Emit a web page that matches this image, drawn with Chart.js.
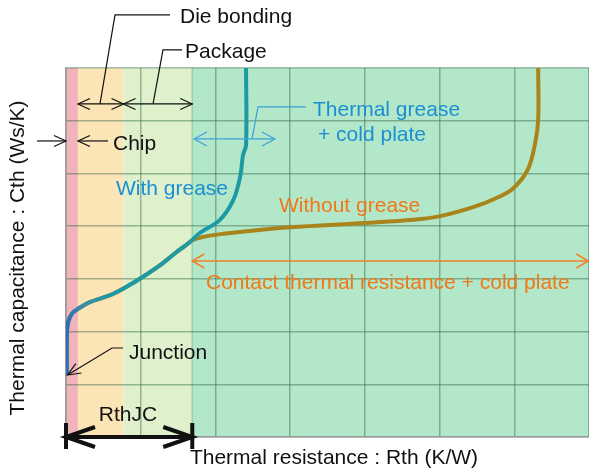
<!DOCTYPE html>
<html>
<head>
<meta charset="utf-8">
<script src="https://cdn.jsdelivr.net/npm/chart.js@4"></script>
<style>
  html, body { margin: 0; padding: 0; background: #fff; }
  #wrap { width: 589px; height: 472px; }
</style>
</head>
<body>
<div id="wrap"><canvas id="structureChart" width="589" height="472"></canvas></div>
<script>
// Structure function: thermal resistance (x) vs thermal capacitance (y), axes unlabelled
const gridTicks = [0, 1, 2, 3, 4, 5, 6, 7];

const layerNames = ['Chip', 'Die bonding', 'Package', 'Contact + cold plate'];
const layerEdges = [0, 0.16, 0.77, 1.69, 7];
const layerColors = ['#f2b4bc', '#fbe4b5', '#dff0cd', '#b2e7c9'];

const withGreaseRth = [0.01, 0.012, 0.03, 0.08, 0.16, 0.32, 0.59, 0.81, 1.01, 1.26, 1.48, 1.66, 1.79, 2.06, 2.24, 2.33, 2.37, 2.41, 2.41];
const withGreaseCth = [1.18, 1.95, 2.18, 2.34, 2.43, 2.56, 2.69, 2.85, 3.02, 3.26, 3.51, 3.70, 3.87, 4.12, 4.50, 4.93, 5.35, 5.54, 7.0];

const withoutGreaseRth = [0.01, 0.012, 0.03, 0.08, 0.16, 0.32, 0.59, 0.81, 1.01, 1.26, 1.48, 1.59, 1.70, 1.97, 2.46, 3.00, 4.00, 4.65, 5.01, 5.45, 5.74, 5.98, 6.18, 6.28, 6.32, 6.32];
const withoutGreaseCth = [1.18, 1.95, 2.18, 2.34, 2.43, 2.56, 2.69, 2.85, 3.02, 3.26, 3.51, 3.62, 3.74, 3.83, 3.91, 3.98, 4.06, 4.12, 4.19, 4.36, 4.52, 4.71, 5.07, 5.58, 6.02, 7.0];

const FONT = '21px "Liberation Sans", Arial, sans-serif';
const BLACK = '#111';
const BLUE = '#1b8fd2';
const ORANGE = '#f07818';

function toPoints(xs, ys) {
  return xs.map((x, i) => ({ x: x, y: ys[i] }));
}

function arrowHead(ctx, x, y, fromX, fromY, len, half) {
  const a = Math.atan2(y - fromY, x - fromX);
  ctx.beginPath();
  ctx.moveTo(x - len * Math.cos(a) + half * Math.sin(a), y - len * Math.sin(a) - half * Math.cos(a));
  ctx.lineTo(x, y);
  ctx.lineTo(x - len * Math.cos(a) - half * Math.sin(a), y - len * Math.sin(a) + half * Math.cos(a));
  ctx.stroke();
}

// layer bands behind the grid
const bandsPlugin = {
  id: 'bands',
  beforeDraw(chart) {
    const { ctx, chartArea, scales } = chart;
    ctx.save();
    for (let i = 0; i < layerNames.length; i++) {
      const x0 = scales.x.getPixelForValue(layerEdges[i]);
      const x1 = scales.x.getPixelForValue(layerEdges[i + 1]);
      ctx.fillStyle = layerColors[i];
      ctx.fillRect(x0, chartArea.top, x1 - x0, chartArea.bottom - chartArea.top);
    }
    const xe = scales.x.getPixelForValue(layerEdges[3]);
    ctx.strokeStyle = '#8fd6a6';
    ctx.lineWidth = 1.5;
    ctx.beginPath();
    ctx.moveTo(xe, chartArea.top);
    ctx.lineTo(xe, chartArea.bottom);
    ctx.stroke();
    ctx.restore();
  }
};

// arrows, leaders and labels
const notesPlugin = {
  id: 'notes',
  afterDraw(chart) {
    const { ctx, scales } = chart;
    const X = v => scales.x.getPixelForValue(v);
    const Y = v => scales.y.getPixelForValue(v);

    function text(str, x, y, color, align) {
      ctx.fillStyle = color;
      ctx.textAlign = align || 'left';
      ctx.textBaseline = 'middle';
      ctx.fillText(str, X(x), Y(y));
    }
    function poly(pts, color, w) {
      ctx.strokeStyle = color;
      ctx.lineWidth = w;
      ctx.beginPath();
      pts.forEach((p, i) => i ? ctx.lineTo(X(p[0]), Y(p[1])) : ctx.moveTo(X(p[0]), Y(p[1])));
      ctx.stroke();
    }
    function dblArrow(x0, x1, y, color, w, len, half) {
      poly([[x0, y], [x1, y]], color, w);
      arrowHead(ctx, X(x0), Y(y), X(x1), Y(y), len, half);
      arrowHead(ctx, X(x1), Y(y), X(x0), Y(y), len, half);
    }

    ctx.save();
    ctx.font = FONT;
    ctx.lineCap = 'butt';

    // Die bonding
    text('Die bonding', 1.526, 7.968, BLACK);
    poly([[1.392, 8.006], [0.656, 8.006], [0.455, 6.318]], BLACK, 1.2);
    dblArrow(layerEdges[1], layerEdges[2], 6.318, BLACK, 1.2, 12, 5.5);

    // Package
    text('Package', 1.593, 7.304, BLACK);
    poly([[1.553, 7.342], [1.298, 7.342], [1.165, 6.318]], BLACK, 1.2);
    dblArrow(layerEdges[2], layerEdges[3], 6.318, BLACK, 1.2, 12, 5.5);

    // Chip
    text('Chip', 0.629, 5.559, BLACK);
    poly([[-0.388, 5.616], [layerEdges[0], 5.616]], BLACK, 1.2);
    arrowHead(ctx, X(layerEdges[0]), Y(5.616), X(-0.388), Y(5.616), 12, 5.5);
    poly([[0.562, 5.616], [layerEdges[1], 5.616]], BLACK, 1.2);
    arrowHead(ctx, X(layerEdges[1]), Y(5.616), X(0.562), Y(5.616), 12, 5.5);

    // Thermal grease + cold plate
    text('Thermal grease', 3.306, 6.204, BLUE);
    text('+ cold plate', 3.373, 5.730, BLUE);
    poly([[3.212, 6.261], [2.570, 6.261], [2.490, 5.654]], '#3da0dc', 1.2);
    dblArrow(1.713, 2.797, 5.654, '#3da0dc', 1.2, 13, 7);

    // series labels
    text('With grease', 0.669, 4.705, BLUE);
    text('Without grease', 2.851, 4.382, ORANGE);

    // contact resistance span
    dblArrow(layerEdges[3], 6.99, 3.339, '#f08228', 1.5, 12, 7);
    text('Contact thermal resistance + cold plate', 1.874, 2.922, ORANGE);

    // Junction
    text('Junction', 0.843, 1.594, BLACK);
    poly([[0.763, 1.688], [0.616, 1.688], [0.02, 1.176]], BLACK, 1.2);
    arrowHead(ctx, X(0.02), Y(1.176), X(0.616), Y(1.688), 13, 5.5);

    // RthJC
    text('RthJC', 0.83, 0.417, BLACK, 'center');
    poly([[layerEdges[0], 0], [layerEdges[3], 0]], BLACK, 4);
    arrowHead(ctx, X(layerEdges[0]), Y(0), X(layerEdges[3]), Y(0), 29, 10);
    arrowHead(ctx, X(layerEdges[3]), Y(0), X(layerEdges[0]), Y(0), 29, 10);
    poly([[layerEdges[0], 0.266], [layerEdges[0], -0.228]], BLACK, 4);
    poly([[layerEdges[3], 0.266], [layerEdges[3], -0.228]], BLACK, 4);

    // axis titles
    text('Thermal resistance : Rth (K/W)', 3.587, -0.398, BLACK, 'center');
    ctx.save();
    ctx.translate(X(-0.642), Y(3.396));
    ctx.rotate(-Math.PI / 2);
    ctx.fillStyle = BLACK;
    ctx.textAlign = 'center';
    ctx.textBaseline = 'middle';
    ctx.fillText('Thermal capacitance : Cth (Ws/K)', 0, 0);
    ctx.restore();

    ctx.restore();
  }
};

function greaseColor(context) {
  const chart = context.chart;
  if (!chart.chartArea) return '#1a9aa8';
  const x = chart.scales.x;
  const g = chart.ctx.createLinearGradient(x.getPixelForValue(0), 0, x.getPixelForValue(0.6), 0);
  g.addColorStop(0, '#2a6cbc');
  g.addColorStop(0.4, '#3b8ea8');
  g.addColorStop(1, '#1d9aa4');
  return g;
}

new Chart(document.getElementById('structureChart'), {
  type: 'line',
  data: {
    datasets: [
      {
        label: 'With grease',
        data: toPoints(withGreaseRth, withGreaseCth),
        borderColor: greaseColor,
        borderWidth: 4,
        pointRadius: 0,
        tension: 0.35,
        fill: false
      },
      {
        label: 'Without grease',
        data: toPoints(withoutGreaseRth, withoutGreaseCth),
        borderColor: '#a8841a',
        borderWidth: 4,
        pointRadius: 0,
        tension: 0.35,
        fill: false
      }
    ]
  },
  options: {
    responsive: false,
    animation: false,
    layout: { padding: { left: 66, right: 0, top: 68, bottom: 35 } },
    plugins: { legend: { display: false }, tooltip: { enabled: false } },
    scales: {
      x: {
        type: 'linear',
        min: gridTicks[0],
        max: gridTicks[gridTicks.length - 1],
        afterBuildTicks: axis => { axis.ticks = gridTicks.map(v => ({ value: v })); },
        ticks: { display: false },
        grid: { color: 'rgba(40,95,62,0.42)', lineWidth: 1.5, drawTicks: false },
        border: { color: '#9a9a9a', width: 1.5 }
      },
      y: {
        type: 'linear',
        min: gridTicks[0],
        max: gridTicks[gridTicks.length - 1],
        afterBuildTicks: axis => { axis.ticks = gridTicks.map(v => ({ value: v })); },
        ticks: { display: false },
        grid: { color: 'rgba(40,95,62,0.42)', lineWidth: 1.5, drawTicks: false },
        border: { color: '#9a9a9a', width: 1.5 }
      }
    }
  },
  plugins: [bandsPlugin, notesPlugin]
});
</script>
</body>
</html>
